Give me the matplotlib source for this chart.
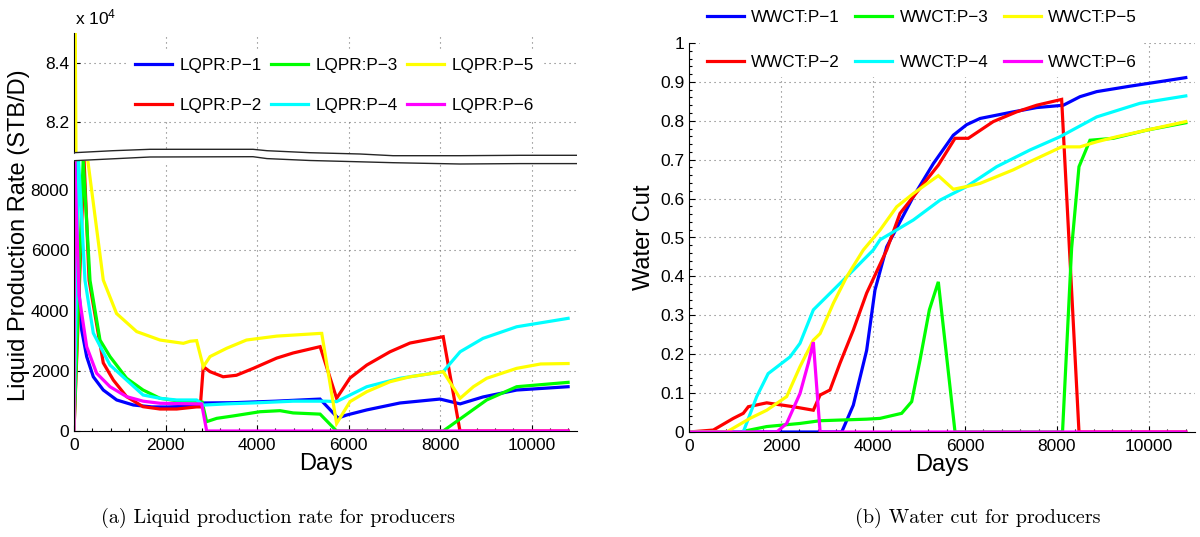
import matplotlib
matplotlib.use('Agg')
import matplotlib.pyplot as plt
from matplotlib.ticker import MultipleLocator, FuncFormatter

plt.rcParams['font.family'] = 'Liberation Sans'
plt.rcParams['mathtext.fontset'] = 'custom'
plt.rcParams['mathtext.rm'] = 'Liberation Sans'
plt.rcParams['mathtext.it'] = 'Liberation Sans'

# ---- liquid production rate (STB/D) ----
lq_p1_days = [0, 20, 95, 168, 277, 422, 640, 933, 1297, 1700, 2026, 2680, 2830, 3500,
              4400, 5378, 5770, 5960, 6400, 7125, 8000, 8440, 8940, 9676, 10800]
lq_p1 = [0, 9000, 5000, 3350, 2470, 1800, 1360, 1030, 863, 800, 797, 830, 930, 940,
         990, 1060, 430, 530, 700, 930, 1060, 900, 1130, 1360, 1470]

lq_p2_days = [0, 220, 330, 640, 860, 1150, 1510, 1880, 2245, 2680, 2760, 2826, 2973,
              3260, 3550, 3920, 4430, 4790, 5380, 5740, 6033, 6400, 6907, 7344, 8070,
              8437, 10800]
lq_p2 = [0, 9000, 5000, 2260, 1690, 1140, 807, 730, 730, 800, 800, 2135, 1970,
         1800, 1850, 2080, 2420, 2590, 2800, 1085, 1760, 2190, 2630, 2920, 3130,
         0, 0]

lq_p3_days = [0, 200, 350, 568, 787, 1150, 1510, 1880, 2245, 2680, 2800, 2900, 3120,
              3480, 4066, 4503, 4790, 5380, 5740, 8070, 9020, 9676, 10800]
lq_p3 = [0, 9000, 5000, 3020, 2470, 1750, 1360, 1085, 1005, 990, 960, 310, 420,
         500, 640, 675, 600, 560, 0, 0, 1030, 1470, 1615]

lq_p4_days = [0, 100, 240, 422, 787, 1150, 1510, 1880, 2245, 2680, 2826, 3335, 4066,
              4790, 5525, 5740, 6033, 6400, 7125, 8070, 8440, 8940, 9676, 10800]
lq_p4 = [0, 9000, 5000, 3250, 2190, 1690, 1195, 1085, 1030, 1030, 860, 900, 940,
         990, 990, 975, 1195, 1470, 1750, 1970, 2630, 3075, 3460, 3740]

lq_p5_days = [0, 10, 300, 640, 930, 1370, 1880, 2390, 2540, 2680, 2826, 2973, 3335,
              3770, 4430, 5380, 5415, 5740, 6033, 6400, 6907, 7344, 8070, 8440, 8730,
              9020, 9676, 10200, 10800]
lq_p5 = [0, 90000, 9000, 5010, 3900, 3300, 3020, 2910, 2980, 3000, 2135, 2470, 2745,
         3020, 3150, 3240, 3240, 250, 975, 1305, 1635, 1800, 1970, 1085, 1470,
         1750, 2080, 2225, 2240]

lq_p6_days = [0, 15, 110, 277, 496, 787, 1150, 1510, 1880, 2680, 2790, 2900, 10800]
lq_p6 = [0, 9000, 4500, 2800, 1915, 1470, 1140, 990, 920, 900, 900, 0, 0]

# ---- water cut ----
wc_p1_days = [0, 3320, 3572, 3862, 4043, 4298, 4877, 5312, 5746, 6036, 6326, 7050,
              7558, 8137, 8500, 8863, 9587, 10311, 10800]
wc_p1 = [0, 0, 0.069, 0.21, 0.365, 0.476, 0.605, 0.69, 0.763, 0.79, 0.806, 0.823,
         0.834, 0.84, 0.862, 0.875, 0.889, 0.902, 0.911]

wc_p2_days = [0, 528, 963, 1180, 1290, 1690, 1800, 2268, 2703, 2850, 3065, 3283,
              3572, 3862, 4298, 4587, 5420, 5783, 6072, 6615, 7123, 7558, 8101,
              8478, 10800]
wc_p2 = [0, 0.005, 0.035, 0.048, 0.065, 0.075, 0.073, 0.065, 0.056, 0.095, 0.108,
         0.177, 0.262, 0.357, 0.468, 0.562, 0.686, 0.755, 0.755, 0.798, 0.823,
         0.84, 0.855, 0, 0]

wc_p3_days = [0, 1109, 1690, 2413, 2850, 3862, 4152, 4623, 4841, 5022, 5225, 5420,
              5783, 8120, 8318, 8478, 8717, 9224, 9950, 10800]
wc_p3 = [0, 0, 0.014, 0.022, 0.029, 0.033, 0.035, 0.048, 0.078, 0.185, 0.314,
         0.386, 0, 0, 0.473, 0.682, 0.75, 0.755, 0.776, 0.795]

wc_p4_days = [0, 1180, 1472, 1720, 2196, 2413, 2703, 3138, 3572, 4007, 4152, 4877,
              5457, 6036, 6688, 7413, 8065, 8863, 9804, 10800]
wc_p4 = [0, 0, 0.091, 0.15, 0.193, 0.228, 0.314, 0.365, 0.416, 0.468, 0.494, 0.545,
         0.596, 0.631, 0.682, 0.725, 0.759, 0.81, 0.845, 0.864]

wc_p5_days = [0, 820, 1326, 1690, 2123, 2413, 2703, 2850, 3138, 3428, 3790, 4152,
              4515, 4877, 5420, 5746, 6036, 6326, 7050, 7486, 8101, 8500, 8863,
              9297, 9950, 10800]
wc_p5 = [0, 0, 0.035, 0.056, 0.091, 0.168, 0.236, 0.253, 0.331, 0.399, 0.468, 0.519,
         0.579, 0.613, 0.659, 0.624, 0.631, 0.639, 0.674, 0.699, 0.733, 0.733,
         0.746, 0.759, 0.776, 0.798]

wc_p6_days = [0, 1908, 2123, 2413, 2594, 2703, 2850, 10800]
wc_p6 = [0, 0, 0.022, 0.099, 0.177, 0.231, 0, 0]

colors = ['#0000ff', '#ff0000', '#00ff00', '#00ffff', '#ffff00', '#ff00ff']
well_names = ['P\u22121', 'P\u22122', 'P\u22123', 'P\u22124', 'P\u22125', 'P\u22126']
caption_a = '(a) Liquid production rate for producers'
caption_b = '(b) Water cut for producers'

lq_series = [(lq_p1_days, lq_p1), (lq_p2_days, lq_p2), (lq_p3_days, lq_p3),
             (lq_p4_days, lq_p4), (lq_p5_days, lq_p5), (lq_p6_days, lq_p6)]
wc_series = [(wc_p1_days, wc_p1), (wc_p2_days, wc_p2), (wc_p3_days, wc_p3),
             (wc_p4_days, wc_p4), (wc_p5_days, wc_p5), (wc_p6_days, wc_p6)]

W, H = 1200, 537
LW = 2.3
TICK_FS = 12.5
LABEL_FS = 17


def box(left, top, right, bottom):
    return [left / W, 1 - bottom / H, (right - left) / W, (bottom - top) / H]


def style(ax):
    for s in ['top', 'right']:
        ax.spines[s].set_visible(False)
    for s in ['left', 'bottom']:
        ax.spines[s].set_linewidth(0.8)
    ax.tick_params(which='both', direction='in', width=0.8, labelsize=TICK_FS)
    ax.tick_params(which='major', length=4)
    ax.tick_params(which='minor', length=2.5)
    ax.grid(True, which='major', color='0.45', linestyle=(0, (1, 3.5)), linewidth=0.8)
    ax.set_axisbelow(True)


fig = plt.figure(figsize=(12, 5.37), dpi=100)

# broken y-axis: upper part for the initial spike, lower part for the rest
ax_hi = fig.add_axes(box(74, 33.25, 577.25, 153.4))
ax_lo = fig.add_axes(box(74, 161.4, 577.25, 431))

for ax in (ax_hi, ax_lo):
    style(ax)
    for (d, v), c in zip(lq_series, colors):
        ax.plot(d, v, color=c, lw=LW, solid_joinstyle='miter')
    ax.set_xlim(0, 11000)
    ax.xaxis.set_major_locator(MultipleLocator(2000))

ax_hi.set_ylim(80960, 85000)
ax_hi.set_yticks([82000, 84000])
ax_hi.yaxis.set_major_formatter(FuncFormatter(lambda v, p: '%.1f' % (v / 1e4)))
ax_hi.spines['bottom'].set_visible(False)
ax_hi.tick_params(axis='x', bottom=False, labelbottom=False)

ax_lo.set_ylim(0, 8950)
ax_lo.set_yticks([0, 2000, 4000, 6000, 8000])
ax_lo.xaxis.set_minor_locator(MultipleLocator(400))
ax_lo.tick_params(axis='x', pad=5)
ax_lo.set_xlabel('Days', fontsize=LABEL_FS, labelpad=0)
ax_lo.set_ylabel('Liquid Production Rate (STB/D)', fontsize=LABEL_FS)
ax_lo.yaxis.set_label_coords(-0.0865, 0.725)

fig.text(75 / W, 1 - 17 / H, r'x 10$^{4}$', fontsize=12.5, va='center', ha='left')

# axis break marks
brk = fig.add_axes([74 / W, 0, 503.25 / W, 1])
brk.set_xlim(74, 577.25)
brk.set_ylim(H, 0)
brk.axis('off')
brk_x = [74, 113, 150, 253, 267, 310, 360, 393, 460, 520, 577.25]
brk_top = [152.7, 150.7, 149.3, 149.3, 150.7, 152.7, 154.0, 155.7, 155.7, 155.3, 155.3]
brk_bot = [160.7, 158.8, 157.0, 156.7, 158.6, 160.5, 161.8, 162.7, 164.0, 163.6, 163.6]
brk.fill_between(brk_x, brk_top, brk_bot, color='white', lw=0)
brk.plot(brk_x, brk_top, color='0.15', lw=1.0)
brk.plot(brk_x, brk_bot, color='0.15', lw=1.0)

# water cut panel
ax_wc = fig.add_axes(box(689, 43, 1195, 432))
style(ax_wc)
wc_lines = []
for (d, v), c in zip(wc_series, colors):
    ln, = ax_wc.plot(d, v, color=c, lw=LW, solid_joinstyle='miter')
    wc_lines.append(ln)
ax_wc.set_xlim(0, 11000)
ax_wc.set_ylim(0, 1)
ax_wc.xaxis.set_major_locator(MultipleLocator(2000))
ax_wc.xaxis.set_minor_locator(MultipleLocator(400))
ax_wc.yaxis.set_major_locator(MultipleLocator(0.1))
ax_wc.yaxis.set_minor_locator(MultipleLocator(0.02))
ax_wc.yaxis.set_major_formatter(FuncFormatter(lambda v, p: '%g' % round(v, 1)))
ax_wc.tick_params(axis='x', pad=5)
ax_wc.set_xlabel('Days', fontsize=LABEL_FS, labelpad=0)
ax_wc.set_ylabel('Water Cut', fontsize=LABEL_FS)
ax_wc.yaxis.set_label_coords(-0.068, 0.5)

leg_kw = dict(ncol=3, loc='upper left', fontsize=12.3, handlelength=2.15,
              handletextpad=0.45, borderaxespad=0, borderpad=0.4,
              frameon=True, facecolor='white', edgecolor='none', framealpha=1,
              fancybox=False, bbox_transform=fig.transFigure)

fig.legend(ax_lo.get_lines(), ['LQPR:' + n for n in well_names],
           bbox_to_anchor=(128 / W, 1 - 51 / H), columnspacing=0.55,
           labelspacing=1.45, **leg_kw)
fig.legend(wc_lines, ['WWCT:' + n for n in well_names],
           bbox_to_anchor=(700 / W, 1 - 3 / H), columnspacing=0.9,
           labelspacing=1.75, **leg_kw)

fig.text(278 / W, 1 - 518 / H, caption_a, family='cmr10', fontsize=14.5,
         ha='center', va='center')
fig.text(978 / W, 1 - 518 / H, caption_b, family='cmr10', fontsize=14.5,
         ha='center', va='center')

fig.savefig('out.png', dpi=100)
